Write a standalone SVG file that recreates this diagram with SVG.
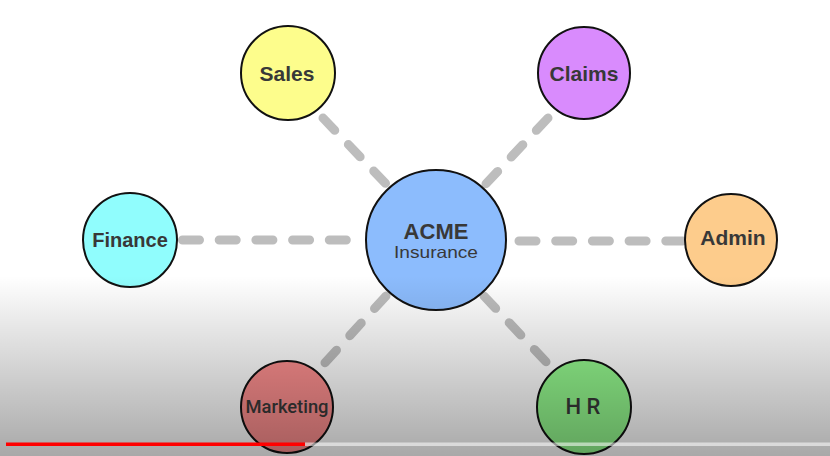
<svg xmlns="http://www.w3.org/2000/svg" width="830" height="456" viewBox="0 0 830 456">
  <defs>
    <linearGradient id="shade" x1="0" y1="276" x2="0" y2="456" gradientUnits="userSpaceOnUse">
      <stop offset="0" stop-color="#000" stop-opacity="0"/>
      <stop offset="1" stop-color="#000" stop-opacity="0.34"/>
    </linearGradient>
    <style>
      .node { stroke: #111; stroke-width: 2; }
      .conn { stroke: #bdbdbd; stroke-width: 9; stroke-linecap: round; stroke-dasharray: 17 19.7; fill: none; }
      .lbl { font-family: "Liberation Sans", Arial, sans-serif; font-weight: bold; fill: #383838; text-anchor: middle; }
      .reg { font-weight: normal; }
      .med { font-family: Roboto, "Liberation Sans", sans-serif; font-weight: 500; }
    </style>
  </defs>
  <rect width="830" height="456" fill="#ffffff"/>

  <g id="connectors">
    <line class="conn" x1="323" y1="118" x2="390" y2="188"/>
    <line class="conn" x1="548" y1="118" x2="482" y2="188"/>
    <line class="conn" x1="182.5" y1="240" x2="366" y2="240"/>
    <line class="conn" x1="519" y1="241" x2="685" y2="241"/>
    <line class="conn" x1="386" y1="296" x2="322" y2="366"/>
    <line class="conn" x1="484" y1="296" x2="550" y2="366"/>
  </g>

  <g id="sales">
    <circle class="node" cx="288" cy="73" r="47" fill="#fdfd8c"/>
    <text class="lbl" x="287" y="81" font-size="21">Sales</text>
  </g>
  <g id="claims">
    <circle class="node" cx="584" cy="73" r="46" fill="#d98bfd"/>
    <text class="lbl" x="584" y="81" font-size="21">Claims</text>
  </g>
  <g id="finance">
    <circle class="node" cx="130" cy="240" r="47" fill="#90fdfd"/>
    <text class="lbl" x="130" y="247" font-size="20">Finance</text>
  </g>
  <g id="admin">
    <circle class="node" cx="731" cy="240" r="46" fill="#fdcc8c"/>
    <text class="lbl" x="733" y="245" font-size="21">Admin</text>
  </g>
  <g id="acme">
    <circle class="node" cx="436" cy="240" r="70" fill="#8cbcfd"/>
    <text class="lbl" x="436" y="239" font-size="22">ACME</text>
    <text class="lbl reg" x="436" y="258" font-size="16.5" textLength="84" lengthAdjust="spacingAndGlyphs">Insurance</text>
  </g>
  <g id="marketing">
    <circle class="node" cx="287" cy="407" r="46" fill="#fc8e8e"/>
    <text class="lbl med" x="287" y="413" font-size="18" textLength="83" lengthAdjust="spacingAndGlyphs">Marketing</text>
  </g>
  <g id="hr">
    <circle class="node" cx="584" cy="407" r="47" fill="#93f88d"/>
    <text class="lbl med" x="583" y="414" font-size="22">H R</text>
  </g>

  <rect x="0" y="276" width="830" height="180" fill="url(#shade)"/>
  <rect x="305" y="442.5" width="525" height="3.5" fill="#ffffff" fill-opacity="0.55"/>
  <rect x="6" y="442.5" width="299" height="3.5" fill="#ff0000"/>
</svg>
